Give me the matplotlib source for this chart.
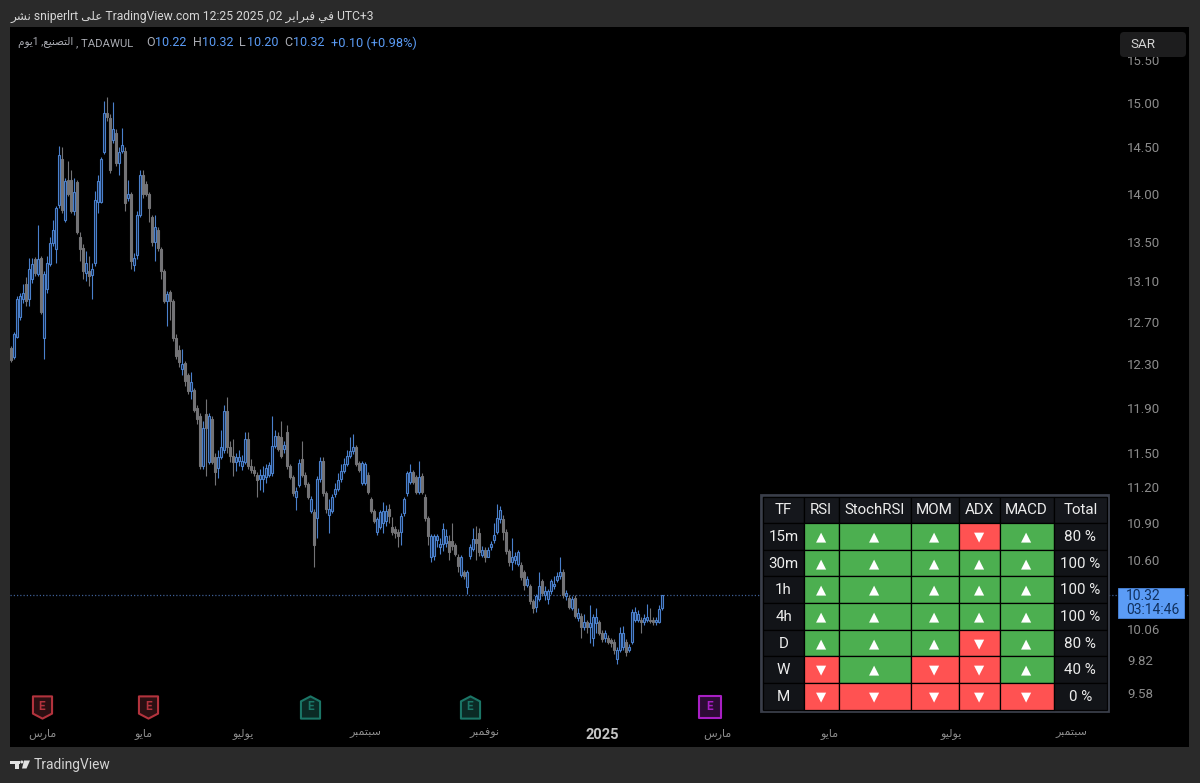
import matplotlib
matplotlib.use("Agg")
import matplotlib.pyplot as plt
from matplotlib.path import Path
from matplotlib.patches import Rectangle, Polygon, Circle, FancyBboxPatch

# ---- data ----
opens = [
    12.45, 12.37, 12.56, 12.75, 12.92, 13.07, 12.92, 13.12, 13.32, 13.17,
    13.33, 12.55, 13.02, 13.27, 13.49, 13.42, 13.88, 14.37, 13.72, 14.15,
    14.15, 13.82, 14.12, 13.55, 13.43, 13.18, 13.20, 13.16, 13.28, 13.91,
    13.91, 14.45, 14.88, 14.83, 14.58, 14.66, 14.33, 14.46, 14.46, 13.95,
    14.00, 13.26, 13.36, 13.78, 14.20, 14.10, 14.00, 13.75, 13.50, 13.62,
    13.42, 13.20, 12.90, 12.99, 12.90, 12.55, 12.43, 12.25, 12.31, 12.20,
    12.05, 12.06, 11.90, 11.82, 11.38, 11.84, 11.42, 11.80, 11.46, 11.37,
    11.46, 11.52, 11.87, 11.55, 11.47, 11.42, 11.43, 11.38, 11.42, 11.62,
    11.38, 11.35, 11.31, 11.27, 11.27, 11.29, 11.31, 11.32, 11.56, 11.65,
    11.64, 11.53, 11.68, 11.38, 11.29, 11.12, 11.22, 11.44, 11.31, 11.23,
    11.00, 10.99, 10.94, 11.27, 11.43, 11.15, 10.97, 11.00, 11.14, 11.19,
    11.27, 11.34, 11.40, 11.47, 11.51, 11.55, 11.41, 11.24, 11.24, 11.31,
    11.10, 11.00, 10.83, 10.87, 10.90, 10.92, 11.02, 10.87, 10.85, 10.83,
    10.83, 10.98, 11.15, 11.25, 11.33, 11.29, 11.16, 11.30, 11.12, 10.94,
    10.62, 10.63, 10.76, 10.70, 10.73, 10.74, 10.75, 10.75, 10.72, 10.62,
    10.48, 10.50, 10.38, 10.63, 10.69, 10.77, 10.82, 10.64, 10.68, 10.62,
    10.70, 10.76, 10.83, 10.93, 10.93, 10.83, 10.67, 10.58, 10.60, 10.57,
    10.56, 10.50, 10.40, 10.39, 10.27, 10.23, 10.29, 10.43, 10.32, 10.29,
    10.35, 10.39, 10.44, 10.47, 10.50, 10.31, 10.30, 10.22, 10.30, 10.14,
    10.16, 10.07, 10.11, 10.07, 9.99, 10.10, 10.11, 10.03, 9.99, 9.99,
    9.97, 9.96, 9.83, 9.90, 9.92, 9.96, 9.90, 9.96, 10.13, 10.13,
    10.13, 10.11, 10.13, 10.13, 10.13, 10.11, 10.11, 10.22,
]
highs = [
    12.47, 12.60, 12.95, 12.98, 13.07, 13.14, 13.33, 13.33, 13.34, 13.67,
    13.35, 13.20, 13.35, 13.55, 13.72, 13.87, 14.52, 14.51, 14.17, 14.35,
    14.25, 14.17, 14.15, 13.60, 13.47, 13.40, 13.35, 13.28, 14.03, 14.20,
    14.40, 15.02, 15.07, 14.87, 15.01, 14.70, 14.50, 14.72, 14.50, 14.15,
    14.02, 13.38, 13.82, 14.25, 14.25, 14.14, 14.02, 13.78, 13.78, 13.65,
    13.44, 13.22, 13.00, 13.01, 12.92, 12.58, 12.48, 12.44, 12.33, 12.22,
    12.23, 12.08, 11.92, 11.85, 11.78, 11.98, 11.85, 11.82, 11.50, 11.52,
    11.70, 11.92, 12.00, 11.60, 11.62, 11.50, 11.52, 11.48, 11.68, 11.68,
    11.44, 11.38, 11.33, 11.36, 11.38, 11.40, 11.42, 11.82, 11.70, 11.68,
    11.78, 11.60, 11.74, 11.40, 11.31, 11.20, 11.44, 11.60, 11.33, 11.25,
    11.13, 11.02, 11.30, 11.46, 11.46, 11.17, 11.10, 11.14, 11.24, 11.32,
    11.40, 11.45, 11.52, 11.64, 11.66, 11.57, 11.43, 11.43, 11.42, 11.33,
    11.12, 11.02, 10.95, 11.01, 11.08, 11.05, 11.06, 10.95, 10.88, 10.85,
    10.98, 11.12, 11.34, 11.40, 11.35, 11.31, 11.43, 11.32, 11.14, 10.96,
    10.81, 10.81, 10.81, 10.78, 10.90, 10.85, 10.80, 10.90, 10.74, 10.65,
    10.64, 10.52, 10.52, 10.73, 10.86, 10.88, 10.86, 10.71, 10.70, 10.70,
    10.75, 10.90, 11.06, 11.04, 10.97, 10.85, 10.69, 10.78, 10.66, 10.68,
    10.58, 10.52, 10.47, 10.41, 10.29, 10.33, 10.50, 10.45, 10.39, 10.37,
    10.45, 10.47, 10.50, 10.62, 10.53, 10.36, 10.32, 10.31, 10.32, 10.22,
    10.18, 10.17, 10.13, 10.24, 10.17, 10.22, 10.13, 10.05, 10.05, 10.01,
    9.99, 9.98, 9.92, 10.07, 10.08, 9.98, 9.94, 10.21, 10.23, 10.20,
    10.15, 10.17, 10.25, 10.22, 10.15, 10.15, 10.24, 10.32,
]
lows = [
    12.32, 12.35, 12.55, 12.72, 12.88, 12.85, 12.85, 13.08, 13.15, 13.15,
    12.78, 12.35, 12.98, 13.25, 13.45, 13.28, 13.85, 13.80, 13.70, 13.97,
    13.80, 13.78, 13.58, 13.30, 13.12, 13.10, 13.05, 12.92, 13.25, 13.80,
    13.90, 14.43, 14.80, 14.22, 14.55, 14.30, 14.20, 14.44, 13.82, 13.92,
    13.22, 13.20, 13.32, 13.75, 13.95, 13.98, 13.70, 13.45, 13.30, 13.40,
    13.12, 12.88, 12.66, 12.72, 12.52, 12.35, 12.27, 12.20, 12.10, 12.02,
    11.98, 11.86, 11.75, 11.36, 11.36, 11.30, 11.40, 11.40, 11.22, 11.28,
    11.44, 11.50, 11.50, 11.42, 11.30, 11.34, 11.38, 11.35, 11.40, 11.36,
    11.32, 11.30, 11.12, 11.18, 11.16, 11.24, 11.29, 11.30, 11.54, 11.51,
    11.45, 11.50, 11.36, 11.27, 11.13, 11.01, 11.20, 11.29, 11.20, 11.10,
    10.98, 10.54, 10.78, 11.25, 11.13, 10.98, 10.82, 10.98, 11.12, 11.17,
    11.25, 11.32, 11.38, 11.45, 11.49, 11.38, 11.33, 11.22, 11.22, 11.14,
    10.98, 10.90, 10.80, 10.85, 10.82, 10.88, 10.90, 10.80, 10.78, 10.70,
    10.72, 10.96, 11.13, 11.23, 11.23, 11.14, 11.14, 11.14, 10.92, 10.72,
    10.58, 10.60, 10.70, 10.65, 10.67, 10.70, 10.60, 10.68, 10.63, 10.50,
    10.46, 10.45, 10.33, 10.61, 10.67, 10.60, 10.63, 10.62, 10.58, 10.68,
    10.68, 10.74, 10.81, 10.90, 10.76, 10.65, 10.55, 10.52, 10.57, 10.55,
    10.44, 10.36, 10.38, 10.25, 10.18, 10.19, 10.27, 10.31, 10.28, 10.25,
    10.33, 10.37, 10.42, 10.45, 10.30, 10.28, 10.21, 10.20, 10.14, 10.12,
    9.99, 10.05, 10.03, 9.95, 9.93, 10.03, 10.01, 9.96, 9.96, 9.94,
    9.92, 9.87, 9.79, 9.88, 9.90, 9.85, 9.88, 9.94, 10.11, 10.11,
    10.03, 10.09, 10.11, 10.10, 10.09, 10.09, 10.10, 10.20,
]
closes = [
    12.34, 12.58, 12.92, 12.95, 12.98, 12.90, 13.22, 13.27, 13.18, 13.32,
    12.80, 13.17, 13.28, 13.49, 13.62, 13.85, 14.42, 13.83, 14.14, 14.00,
    13.82, 14.02, 13.60, 13.42, 13.20, 13.28, 13.15, 13.22, 13.93, 14.14,
    14.37, 14.88, 14.84, 14.25, 14.70, 14.33, 14.45, 14.53, 13.90, 14.00,
    13.30, 13.33, 13.78, 14.20, 14.00, 14.00, 13.85, 13.50, 13.65, 13.43,
    13.20, 12.90, 12.97, 12.90, 12.55, 12.38, 12.32, 12.30, 12.14, 12.05,
    12.13, 11.88, 11.80, 11.38, 11.72, 11.72, 11.82, 11.42, 11.33, 11.46,
    11.55, 11.87, 11.55, 11.47, 11.42, 11.46, 11.46, 11.43, 11.62, 11.38,
    11.35, 11.32, 11.26, 11.31, 11.31, 11.37, 11.39, 11.56, 11.65, 11.53,
    11.47, 11.57, 11.38, 11.29, 11.15, 11.17, 11.41, 11.31, 11.23, 11.12,
    11.10, 10.72, 11.27, 11.43, 11.15, 11.02, 11.02, 11.12, 11.19, 11.26,
    11.34, 11.40, 11.47, 11.51, 11.55, 11.40, 11.35, 11.41, 11.40, 11.16,
    11.00, 10.92, 10.93, 10.99, 11.00, 11.00, 10.96, 10.83, 10.82, 10.79,
    10.96, 11.10, 11.32, 11.33, 11.25, 11.16, 11.29, 11.16, 10.94, 10.79,
    10.79, 10.79, 10.79, 10.73, 10.85, 10.79, 10.66, 10.71, 10.65, 10.55,
    10.62, 10.47, 10.50, 10.70, 10.77, 10.74, 10.66, 10.68, 10.62, 10.68,
    10.73, 10.80, 10.94, 11.01, 10.83, 10.67, 10.58, 10.62, 10.63, 10.66,
    10.46, 10.40, 10.45, 10.27, 10.22, 10.31, 10.39, 10.34, 10.35, 10.35,
    10.43, 10.41, 10.47, 10.50, 10.32, 10.34, 10.23, 10.29, 10.16, 10.18,
    10.07, 10.11, 10.07, 10.10, 10.15, 10.15, 10.03, 9.98, 10.03, 9.96,
    9.95, 9.90, 9.90, 10.03, 10.03, 9.88, 9.92, 10.19, 10.19, 10.17,
    10.11, 10.14, 10.15, 10.12, 10.11, 10.13, 10.21, 10.32,
]

price_ticks = [15.5, 15.0, 14.5, 14.0, 13.5, 13.1, 12.7, 12.3, 11.9, 11.5, 11.2, 10.9, 10.6, 10.06, 9.82, 9.58]
last_price = 10.32

month_pos = [10.3, 44.3, 77.3, 118, 157.7, 197, 235.3, 273, 313.3, 353.3]
month_names = ["مارس", "مايو", "يوليو", "سبتمبر", "نوفمبر", "2025", "مارس", "مايو", "يوليو", "سبتمبر"]

earn_down_pos = [10.3, 45.7]
earn_up_pos = [99.7, 153]
earn_next_pos = [233]
earn_price = 9.48

header = ["TF", "RSI", "StochRSI", "MOM", "ADX", "MACD", "Total"]
tf_labels = ["15m", "30m", "1h", "4h", "D", "W", "M"]
rsi = [1, 1, 1, 1, 1, 0, 0]
stoch = [1, 1, 1, 1, 1, 1, 0]
mom = [1, 1, 1, 1, 1, 0, 0]
adx = [0, 1, 1, 1, 0, 0, 0]
macd = [1, 1, 1, 1, 1, 1, 0]
totals = ["80 %", "100 %", "100 %", "100 %", "80 %", "40 %", "0 %"]

# ---- colours ----
BG = "#2a2a2a"
UP = "#4a80cc"
DOWN = "#737376"
BLUE = "#5b9cf6"
GREEN = "#4caf50"
RED = "#ff5252"
CELL = "#15171c"
LATIN = ["Roboto", "DejaVu Sans"]

plt.rcParams["font.family"] = LATIN

# matplotlib has no arabic shaping, so pick the joined glyphs here and lay them out right to left
FORMS = {"ا": 0xFE8D, "ب": 0xFE8F, "ت": 0xFE95, "ر": 0xFEAD, "س": 0xFEB1, "ش": 0xFEB5, "ص": 0xFEB9, "ع": 0xFEC9,
         "ف": 0xFED1, "ل": 0xFEDD, "م": 0xFEE1, "ن": 0xFEE5, "و": 0xFEED, "ى": 0xFEEF, "ي": 0xFEF1}
NO_NEXT_JOIN = "ارو"


def ar(text):
    out = []
    for k, ch in enumerate(text):
        if ch not in FORMS:
            out.append(ch)
            continue
        prev = text[k - 1] if k > 0 else ""
        nxt = text[k + 1] if k + 1 < len(text) else ""
        joins_prev = prev in FORMS and prev not in NO_NEXT_JOIN
        joins_next = nxt in FORMS and ch not in NO_NEXT_JOIN
        offset = 3 if joins_prev and joins_next else 1 if joins_prev else 2 if joins_next else 0
        out.append(chr(FORMS[ch] + offset))
    return "".join(reversed(out))


W, H = 1200, 783
fig = plt.figure(figsize=(W / 100, H / 100), dpi=100, facecolor=BG)

# main chart, x in bars, y on the log price scale
ax = fig.add_axes([10 / W, 1 - 747 / H, 1179 / W, 720 / H], facecolor="black")
ax.set_yscale("log")
ax.set_xlim(-0.33, 392.67)
ax.set_ylim(9.195, 15.89)
for s in ax.spines.values():
    s.set_visible(False)

x = list(range(len(closes)))
ax.axhline(last_price, color="#3e5f94", lw=0.9, ls=(0, (1, 1.6)), zorder=1)
bar_colors = [UP if c >= o else DOWN for o, c in zip(opens, closes)]
ax.vlines(x, lows, highs, colors=bar_colors, lw=0.8, zorder=2)
for i in x:
    is_up = closes[i] >= opens[i]
    ax.bar(i, abs(closes[i] - opens[i]), bottom=min(opens[i], closes[i]), width=0.6,
           facecolor="#10203a" if is_up else DOWN, edgecolor=bar_colors[i], lw=0.8, zorder=3)

ax.yaxis.tick_right()
ax.set_yticks(price_ticks)
ax.set_yticklabels(["%.2f" % p for p in price_ticks], color="#8c8c8c", fontsize=9.5, ha="left")
ax.minorticks_off()
ax.tick_params(axis="y", length=0, pad=-44.6)
ax.set_xticks(month_pos)
labels = [m if m.isdigit() else ar(m) for m in month_names]
ax.set_xticklabels(labels, color="#8c8c8c", fontsize=8)
ax.tick_params(axis="x", length=0, pad=-14)
year_label = ax.get_xticklabels()[month_names.index("2025")]
year_label.set_fontweight("bold")
year_label.set_fontsize(10.5)
year_label.set_color("#c4c4c4")

# earnings flags along the bottom
flag_down = Path([(-.86, 1), (.86, 1), (.86, -.55), (0, -1), (-.86, -.55), (-.86, 1)], closed=True)
flag_up = Path([(-.86, .55), (0, 1), (.86, .55), (.86, -1), (-.86, -1), (-.86, .55)], closed=True)
flag_next = Path([(-.86, .9), (.86, .9), (.86, -.9), (-.86, -.9), (-.86, .9)], closed=True)
for pos, marker, edge, face in [(earn_down_pos, flag_down, "#b3333d", "#2b0f12"),
                                (earn_up_pos, flag_up, "#1b7566", "#0b2a25"),
                                (earn_next_pos, flag_next, "#a81fc4", "#2d0b35")]:
    ax.plot(pos, [earn_price] * len(pos), ls="none", marker=marker, ms=16, mfc=face, mec=edge, mew=1.5, zorder=4)
    for p in pos:
        ax.text(p, earn_price, "E", color=edge, fontsize=8.5, fontweight="bold", ha="center", va="center", zorder=5)

# everything on top of the chart, in picture pixels
ui = fig.add_axes([0, 0, 1, 1], facecolor="none")
ui.set_xlim(0, W)
ui.set_ylim(H, 0)
ui.axis("off")

ui.text(10, 16.5, ar("نشر") + " sniperlrt " + ar("على") + " TradingView.com 12:25 2025 ,02 " + ar("في فبراير") + " UTC+3",
        color="#d6d6d6", fontsize=8.75, va="center")

ui.text(18, 43, ar("يوم") + "1 ," + ar("التصنيع"), color="#a9abb2", fontsize=7.6, va="center")
ui.text(75.5, 43, ", TADAWUL", color="#a9abb2", fontsize=8.1, va="center")
for lx, letter, vx, value in [(146, "O", 155, "10.22"), (193, "H", 202, "10.32"), (239, "L", 246.5, "10.20"), (284, "C", 293, "10.32")]:
    ui.text(lx, 43, letter, color="#a9abb2", fontsize=9, va="center")
    ui.text(vx, 43, value, color=BLUE, fontsize=9, va="center")
ui.text(331, 43, "+0.10 (+0.98%)", color=BLUE, fontsize=9.2, va="center")

# currency button
ui.add_patch(FancyBboxPatch((1122, 34), 62, 21, boxstyle="round,pad=2,rounding_size=4", facecolor="#1d1d1e", edgecolor="none"))
ui.text(1130, 44.5, "SAR", color="#d4d4d4", fontsize=9.6, va="center")

# last price tag
ui.add_patch(Rectangle((1118, 588), 66, 30, facecolor=BLUE, edgecolor="#4a86dc", lw=0.6))
ui.text(1126, 596, "10.32", color="#10305e", fontsize=10, va="center")
ui.text(1126, 610, "03:14:46", color="#10305e", fontsize=10, va="center")

# signal table
col_edges = [763, 804, 838.5, 910.5, 958.5, 999.5, 1053.5, 1107]
row_edges = [496.5, 522.5, 549.5, 576, 602.5, 629.5, 656, 682.5, 709.5]
ui.add_patch(Rectangle((761, 495), 347, 216, facecolor="black", edgecolor="#3a3e4a", lw=2))


def cell(col, row, color, label, label_color="#ececec", size=10.9, alpha=1.0, family=None):
    x0, x1 = col_edges[col], col_edges[col + 1]
    y0, y1 = row_edges[row], row_edges[row + 1]
    ui.add_patch(Rectangle((x0, y0), x1 - x0, y1 - y0, facecolor=color, edgecolor="black", lw=0.9, alpha=alpha))
    ui.text((x0 + x1) / 2, (y0 + y1) / 2 + 1, label, color=label_color, fontsize=size, ha="center", va="center",
            family=family or LATIN)


for c, name in enumerate(header):
    cell(c, 0, CELL, name)
signal_cols = [rsi, stoch, mom, adx, macd]
for r in range(len(tf_labels)):
    cell(0, r + 1, CELL, tf_labels[r], alpha=0.88)
    for c, col in enumerate(signal_cols):
        up = col[r] == 1
        cell(c + 1, r + 1, GREEN if up else RED, "▲" if up else "▼", label_color="white", size=9.5, family="DejaVu Sans")
    cell(6, r + 1, CELL, totals[r], alpha=0.88)

# footer logo
ui.add_patch(Rectangle((10, 760.5), 10, 3, facecolor="#e2e2e2", edgecolor="none"))
ui.add_patch(Rectangle((14.5, 760.5), 4.5, 8, facecolor="#e2e2e2", edgecolor="none"))
ui.add_patch(Circle((21.8, 762), 1.5, facecolor="#e2e2e2", edgecolor="none"))
ui.add_patch(Polygon([(24, 760.5), (30, 760.5), (26.5, 768.5), (22, 768.5)], closed=True, facecolor="#e2e2e2", edgecolor="none"))
ui.text(34, 765.5, "TradingView", color="#d4d4d4", fontsize=9.9, va="center")

fig.savefig("out.png", dpi=100, facecolor=BG)
